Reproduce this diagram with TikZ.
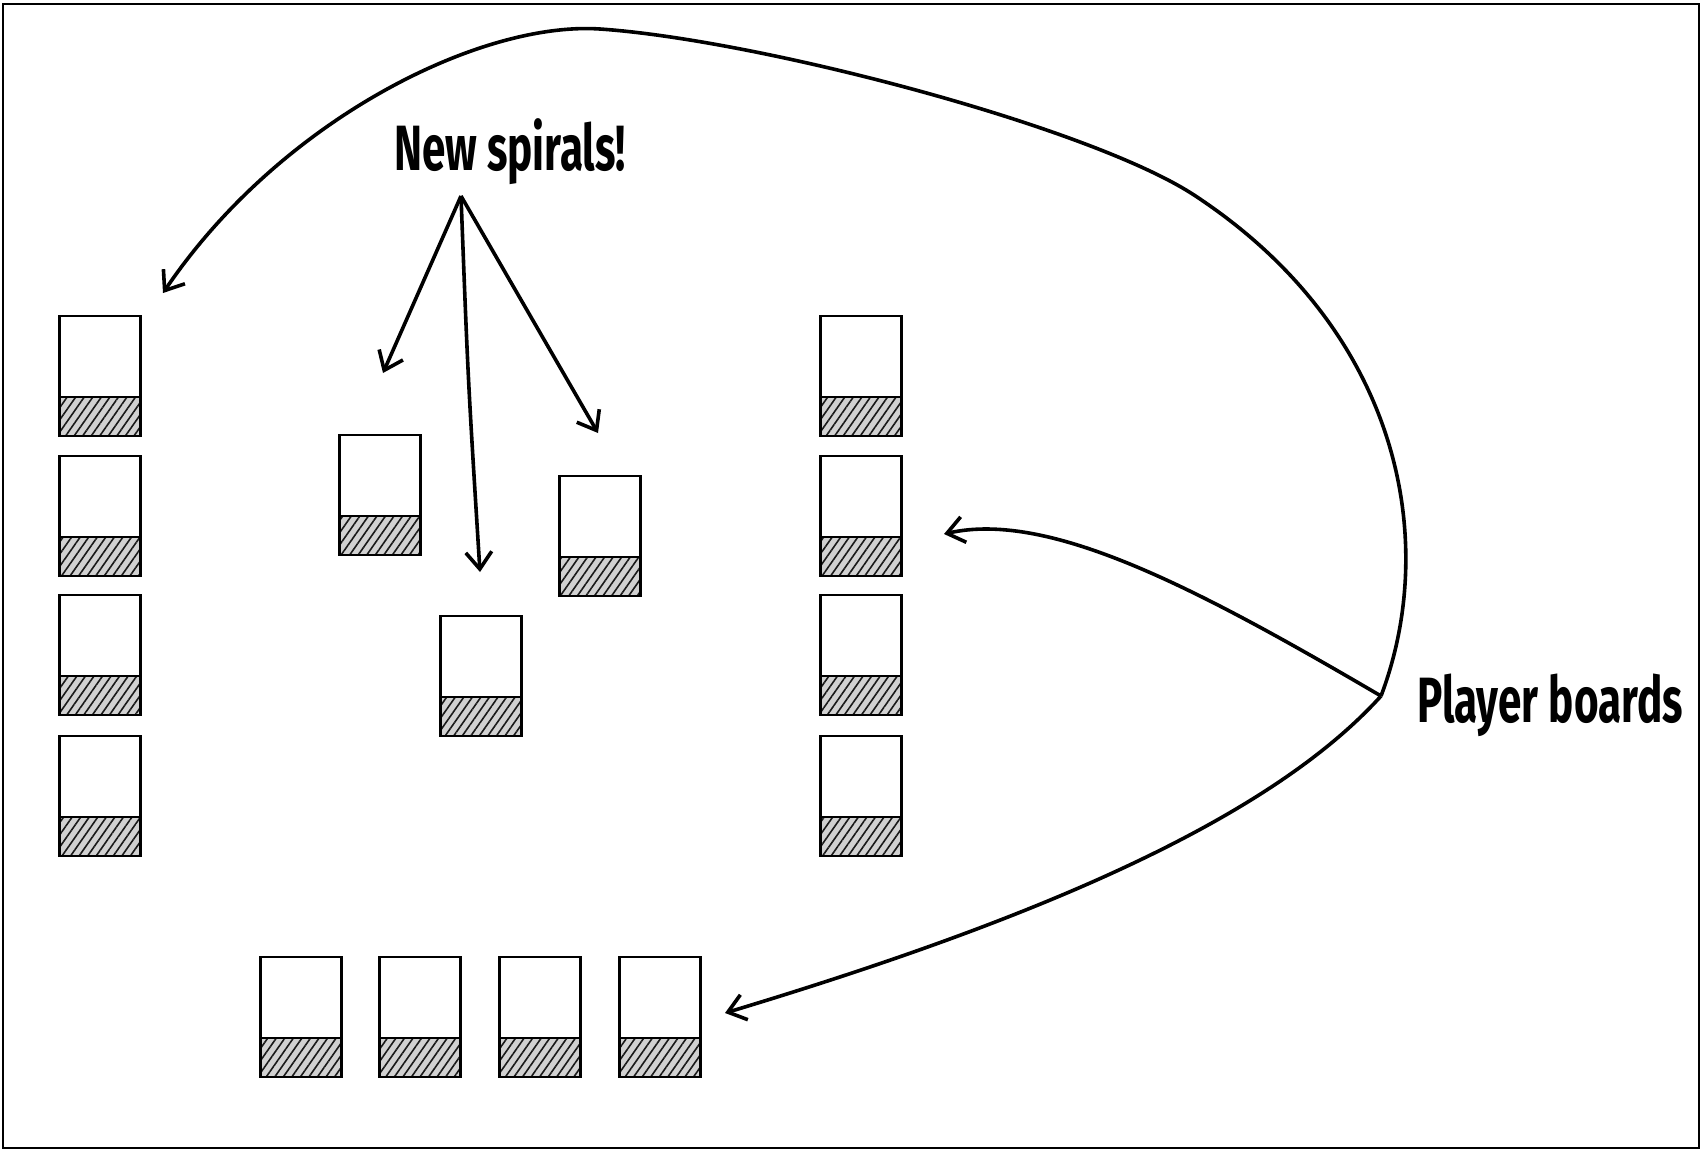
\documentclass[tikz,border=0pt]{standalone}
\usepackage{fontspec}
\setmainfont{Fira Sans}
\usetikzlibrary{arrows.meta,patterns.meta}

\tikzset{
  board/.style={draw, line width=1.4pt, minimum width=40.5pt, minimum height=60pt, inner sep=0pt,
    path picture={
      \fill[black!18] (path picture bounding box.south west) rectangle ([yshift=19.5pt]path picture bounding box.south east);
      \fill[pattern={Lines[angle=55,distance=3.5pt,line width=0.8pt]}, pattern color=black!90]
        (path picture bounding box.south west) rectangle ([yshift=19.5pt]path picture bounding box.south east);
      \draw[line width=1.4pt] ([yshift=19.5pt]path picture bounding box.south west)
        -- ([yshift=19.5pt]path picture bounding box.south east);}},
  note/.style={font=\fontsize{32}{38}\selectfont\bfseries, inner sep=0pt, anchor=base},
  pointer/.style={line width=1.8pt, -{Straight Barb[length=8.5pt,width=13pt]}},
}

\begin{document}
\begin{tikzpicture}[x=0.5pt,y=-0.5pt]
      \useasboundingbox (0,0) rectangle (1702,1152);
      \draw [line width=1.2pt] (3,4) rectangle (1699,1148); % frame
      % left player boards
      \node[board] (l1) at (100,376) {};
      \node[board] (l2) at (100,516) {};
      \node[board] (l3) at (100,655) {};
      \node[board] (l4) at (100,796) {};
      % right player boards
      \node[board] (r1) at (861,376) {};
      \node[board] (r2) at (861,516) {};
      \node[board] (r3) at (861,655) {};
      \node[board] (r4) at (861,796) {};
      % bottom player boards
      \node[board] (b1) at (301,1017) {};
      \node[board] (b2) at (420,1017) {};
      \node[board] (b3) at (540,1017) {};
      \node[board] (b4) at (660,1017) {};
      % new spirals
      \node[board] (s1) at (380,495) {};
      \node[board] (s2) at (600,536) {};
      \node[board] (s3) at (481,676) {};
      % labels
      \node[note] (spirals) at (510,170) {\scalebox{0.66}[1]{New spirals!}};
      \node[note] (players) at (1550,722) {\scalebox{0.66}[1]{Player boards}};
      \coordinate (sfork) at (461,196);
      \coordinate (pfork) at (1381,696);
      \coordinate (s1tip) at (383,373);
      \coordinate (s2tip) at (480,572);
      \coordinate (s3tip) at (598,433);
      \coordinate (ltip) at (163,293);
      \coordinate (rtip) at (944,534);
      \coordinate (btip) at (725,1013);
      % spiral arrows
      \draw [pointer] (sfork) -- (s1tip);
      \draw [pointer] (sfork) .. controls (468,380) .. (s2tip);
      \draw [pointer] (sfork) -- (s3tip);
      % player board arrows
      \draw [pointer] (pfork) .. controls (1440,540) and (1400,330) .. (1194,195)
        .. controls (1090,127) and (760,40) .. (600,29)
        .. controls (480,21) and (280,120) .. (ltip);
      \draw [pointer] (pfork) .. controls (1200,590) and (1050,510) .. (rtip);
      \draw [pointer] (pfork) .. controls (1260,830) and (1000,930) .. (btip);
    \end{tikzpicture}
\end{document}
